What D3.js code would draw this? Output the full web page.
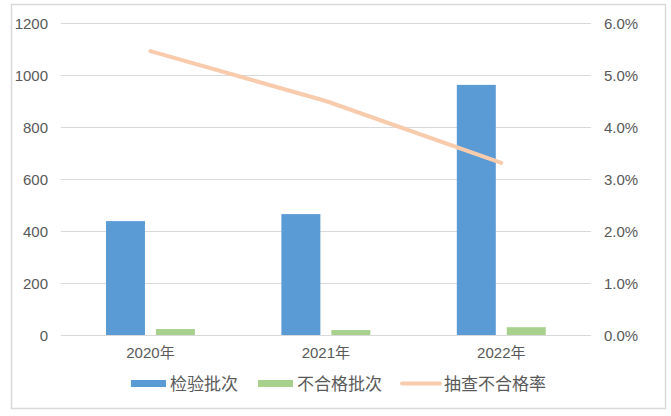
<!DOCTYPE html>
<html><head><meta charset="utf-8">
<script src="https://cdn.jsdelivr.net/npm/d3@7"></script>
<style>
body{margin:0;background:#fff;}
text{font-family:"Liberation Sans","Noto Sans CJK SC",sans-serif;fill:#595959;}
</style></head>
<body>
<svg id="c" width="671" height="416"></svg>
<script>
const categories = ["2020年","2021年","2022年"];
const inspected = [438, 465, 962];
const failed = [23, 19, 30];
const failRate = [0.0546, 0.0450, 0.0331];
const leftTicks = [0,200,400,600,800,1000,1200];
const rightTicks = [0,0.01,0.02,0.03,0.04,0.05,0.06];
const seriesNames = ["检验批次","不合格批次","抽查不合格率"];
const colors = ["#5B9BD5","#A9D18E","#F8CBAD"];

const svg = d3.select("#c");
svg.append("rect").attr("x",11.5).attr("y",4.5).attr("width",654).attr("height",404)
  .attr("fill","#fff").attr("stroke","#D9D9D9").attr("stroke-width",1.5);

const L=62.75, R=589, T=23, B=335;
const x0 = d3.scaleBand().domain(categories).range([L,R]).padding(0);
const x1 = d3.scaleBand().domain([0,1]).range([0,x0.bandwidth()]).paddingInner(0.22).paddingOuter(0.865);
const yL = d3.scaleLinear().domain([0,1200]).range([B,T]);
const yR = d3.scaleLinear().domain([0,0.06]).range([B,T]);

// grid
svg.append("g").selectAll("line").data(leftTicks).join("line")
  .attr("x1",L-2).attr("x2",R+2).attr("y1",d=>Math.round(yL(d))+0.5).attr("y2",d=>Math.round(yL(d))+0.5)
  .attr("stroke","#D9D9D9").attr("stroke-width",1.2);

// left axis
const ga = svg.append("g").attr("transform",`translate(48,0)`)
  .call(d3.axisLeft(yL).tickValues(leftTicks).tickSize(0).tickPadding(0).tickFormat(d3.format("d")));
ga.select(".domain").remove();
ga.selectAll("text").attr("font-size",15).style("fill","#595959").attr("dy","0.35em");

// right axis
const gr = svg.append("g").attr("transform",`translate(604,0)`)
  .call(d3.axisRight(yR).tickValues(rightTicks).tickSize(0).tickPadding(0).tickFormat(d3.format(".1%")));
gr.select(".domain").remove();
gr.selectAll("text").attr("font-size",15).style("fill","#595959").attr("dy","0.35em");

// x labels
const gx = svg.append("g").attr("transform",`translate(0,${B+9})`)
  .call(d3.axisBottom(x0).tickSize(0).tickPadding(3));
gx.select(".domain").remove();
gx.selectAll("text").attr("font-size",15).style("fill","#595959");

// bars
const data = categories.map((c,i)=>({c, v:[inspected[i], failed[i]]}));
const grp = svg.append("g").selectAll("g").data(data).join("g")
  .attr("transform",d=>`translate(${x0(d.c)},0)`);
grp.selectAll("rect").data(d=>d.v.map((v,k)=>({v,k}))).join("rect")
  .attr("x",d=>x1(d.k)).attr("width",x1.bandwidth())
  .attr("y",d=>yL(d.v)).attr("height",d=>B-yL(d.v))
  .attr("fill",d=>colors[d.k]);

// line
const line = d3.line().x((d,i)=>x0(categories[i])+x0.bandwidth()/2).y(d=>yR(d));
svg.append("path").datum(failRate).attr("d",line).attr("fill","none")
  .attr("stroke",colors[2]).attr("stroke-width",4).attr("stroke-linecap","round");

// legend
const leg = svg.append("g");
const items = [{x:131,w:35,type:"rect"},{x:258,w:35,type:"rect"},{x:402,w:38,type:"line"}];
items.forEach((it,i)=>{
  if(it.type==="rect"){
    leg.append("rect").attr("x",it.x).attr("y",380).attr("width",it.w).attr("height",7).attr("fill",colors[i]);
  } else {
    leg.append("line").attr("x1",it.x).attr("x2",it.x+it.w).attr("y1",383.5).attr("y2",383.5)
      .attr("stroke",colors[i]).attr("stroke-width",4).attr("stroke-linecap","round");
  }
  leg.append("text").attr("x",it.x+it.w+4).attr("y",384).attr("dy","0.35em")
    .attr("font-size",17).text(seriesNames[i]);
});
</script>
</body></html>
